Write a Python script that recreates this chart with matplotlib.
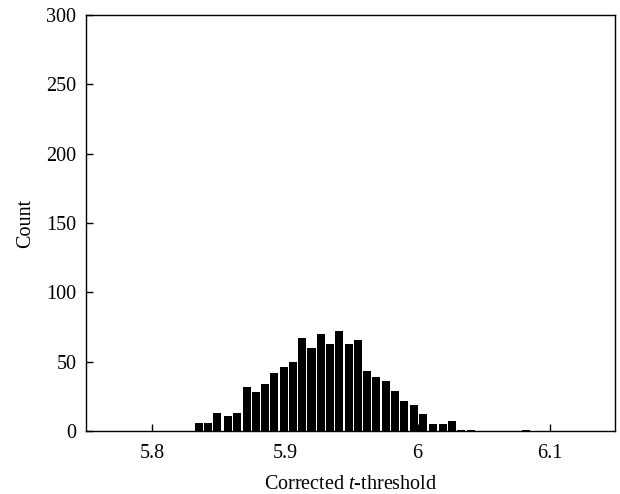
import matplotlib
matplotlib.use('Agg')
import matplotlib.pyplot as plt

plt.rcParams['font.family'] = 'Liberation Serif'
plt.rcParams['mathtext.fontset'] = 'custom'
plt.rcParams['mathtext.rm'] = 'Liberation Serif'
plt.rcParams['mathtext.it'] = 'Liberation Serif:italic'

# histogram bins (centres) and counts
bin_centers = [5.835, 5.842, 5.849, 5.857, 5.864, 5.871, 5.878, 5.885, 5.892, 5.899,
               5.906, 5.913, 5.920, 5.927, 5.934, 5.941, 5.948, 5.955, 5.962, 5.969,
               5.976, 5.983, 5.990, 5.997, 6.004, 6.012, 6.019, 6.026, 6.033, 6.040,
               6.047, 6.054, 6.061, 6.068, 6.075, 6.082]
counts = [6, 6, 13, 11, 13, 32, 28, 34, 42, 46,
          50, 67, 60, 70, 63, 72, 63, 66, 43, 39,
          36, 29, 22, 19, 12, 5, 5, 7, 1, 1,
          0, 0, 0, 0, 0, 1]

x_ticks = [5.8, 5.9, 6.0, 6.1]
x_tick_labels = ['5.8', '5.9', '6', '6.1']
y_ticks = [0, 50, 100, 150, 200, 250, 300]

fig = plt.figure(figsize=(6.2, 4.94), dpi=100)
ax = fig.add_axes([0.139, 0.1275, 0.853, 0.842])

ax.bar(bin_centers, counts, width=0.0061, color='black', edgecolor='none')

ax.set_xlim(5.75, 6.149)
ax.set_ylim(0, 300)
ax.set_xticks(x_ticks)
ax.set_xticklabels(x_tick_labels)
ax.set_yticks(y_ticks)
ax.tick_params(direction='in', length=5, width=1, labelsize=14.5,
               top=False, right=False)
ax.tick_params(axis='y', pad=7)
ax.tick_params(axis='x', pad=9)
for s in ax.spines.values():
    s.set_linewidth(1)

ax.set_xlabel('Corrected $t$-threshold', fontsize=14.5, labelpad=9)
ax.set_ylabel('Count', fontsize=14.5, labelpad=8)

plt.savefig('out.png', dpi=100)
plt.close()
